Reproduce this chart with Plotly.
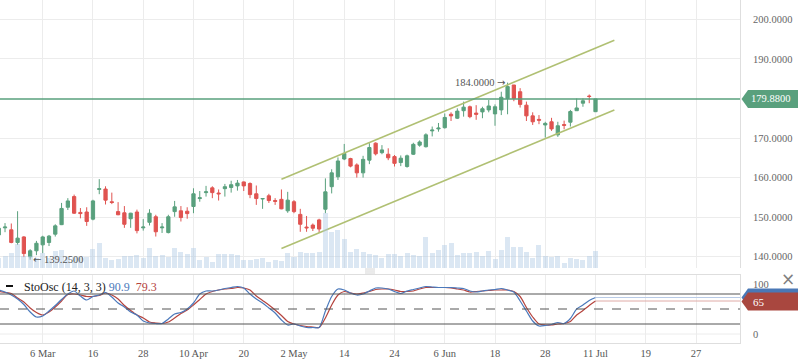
import plotly.graph_objects as go

# ---------------- data (bar index 0 = 6 Mar) ----------------
bar_index = list(range(-7, 89))
opens = [145.5, 147.3, 146.8, 143.6, 145.0, 140.0, 141.5,
         143.0, 143.6, 145.7, 148.1, 152.5, 155.2, 151.2, 151.3, 149.5, 157.0,
         157.1, 153.9, 151.4, 151.1, 149.6, 151.3, 147.3, 148.7, 150.1, 147.3,
         146.1, 151.4, 151.6, 151.5, 152.7, 154.7, 156.2, 157.4, 156.1, 157.2,
         157.5, 157.9, 158.9, 158.5, 155.9, 154.6, 155.4, 154.2, 154.5, 151.6,
         153.9, 150.7, 147.5, 148.0, 149.3, 152.0, 157.7, 160.2, 164.7, 164.8,
         163.2, 161.2, 164.4, 168.7, 166.3, 165.9, 165.3, 163.8, 162.8, 165.9,
         168.2, 167.8, 171.8, 172.3, 172.6, 176.0, 175.0, 176.9, 177.9, 176.3,
         176.6, 177.1, 176.1, 177.1, 180.0, 183.4, 181.7, 178.3, 175.6, 174.7,
         173.3, 174.1, 170.8, 173.4, 174.0, 176.9, 178.8, 180.6, 176.65]
highs = [147.6, 148.5, 148.4, 151.5, 145.2, 141.9, 144.0,
         145.3, 145.5, 148.2, 153.6, 154.8, 155.7, 152.3, 152.5, 154.4, 159.6,
         157.8, 156.2, 153.8, 152.8, 151.1, 151.9, 149.5, 152.0, 150.6, 148.5,
         150.6, 154.1, 152.8, 152.5, 157.3, 156.6, 157.9, 157.8, 157.0, 158.4,
         159.2, 159.4, 159.0, 158.8, 158.0, 154.8, 155.9, 154.8, 157.0, 156.4,
         154.3, 152.1, 150.3, 148.4, 149.6, 159.8, 162.1, 165.1, 168.5, 165.0,
         163.6, 165.5, 168.7, 168.9, 168.2, 167.4, 165.7, 165.6, 165.8, 168.8,
         169.4, 171.2, 172.9, 173.8, 176.2, 176.5, 177.5, 179.2, 178.2, 178.3,
         177.9, 179.6, 178.5, 181.7, 184.0, 183.4, 182.6, 179.2, 176.5, 175.8,
         174.1, 175.1, 174.1, 174.4, 177.1, 180.0, 180.0, 181.0, 179.9]
lows = [144.8, 146.2, 143.4, 143.0, 139.9, 139.25, 140.4,
        140.9, 142.7, 145.1, 148.0, 151.8, 150.8, 149.7, 147.8, 149.2, 155.8,
        153.2, 153.3, 150.5, 147.3, 147.3, 145.9, 146.6, 147.9, 145.1, 146.0,
        145.9, 150.1, 148.9, 149.6, 151.0, 153.9, 155.2, 154.8, 154.2, 155.2,
        156.2, 156.7, 156.6, 154.8, 153.1, 152.1, 153.6, 153.1, 152.0, 151.1,
        151.0, 146.3, 146.3, 146.5, 146.0, 151.0, 156.0, 159.4, 164.4, 162.6,
        160.0, 160.0, 163.4, 165.6, 165.9, 164.4, 162.8, 162.9, 162.5, 165.7,
        167.8, 167.6, 170.4, 171.6, 172.4, 174.3, 174.8, 175.4, 175.0, 174.6,
        175.0, 176.5, 173.1, 175.8, 176.0, 179.3, 177.7, 174.3, 173.3, 173.5,
        170.1, 171.8, 170.3, 172.2, 172.9, 176.9, 177.9, 178.8, 176.6]
closes = [147.2, 147.5, 143.6, 144.7, 140.8, 141.5, 143.4,
          145.0, 145.2, 147.8, 152.2, 154.1, 151.0, 150.9, 148.9, 154.1, 157.2,
          154.3, 153.7, 150.6, 148.2, 151.0, 146.6, 147.5, 151.0, 146.3, 147.5,
          150.1, 152.6, 149.9, 150.9, 155.9, 154.9, 156.4, 156.2, 155.9, 157.7,
          158.2, 158.6, 157.9, 155.7, 154.7, 154.7, 154.2, 154.0, 152.1, 154.3,
          151.4, 148.2, 147.3, 147.2, 147.0, 156.4, 161.2, 164.2, 166.1, 162.9,
          161.2, 164.6, 167.6, 166.0, 167.0, 165.0, 163.6, 164.9, 165.5, 168.4,
          169.0, 170.8, 172.0, 172.5, 175.2, 175.6, 176.8, 177.8, 175.4, 176.0,
          177.4, 178.1, 177.9, 180.3, 183.0, 180.0, 178.5, 175.6, 174.1, 174.5,
          173.7, 172.3, 173.1, 173.2, 176.7, 177.6, 179.4, 180.5, 179.88]
volumes = [10, 12, 15, 24, 12, 12, 10,
           15, 10, 17, 18, 11, 11, 11, 11, 19, 25,
           10, 8, 9, 12, 12, 13, 10, 20, 12, 13,
           11, 20, 16, 14, 20, 8, 11, 6, 14, 14,
           14, 13, 8, 8, 9, 10, 6, 8, 7, 15,
           11, 16, 15, 15, 16, 55, 36, 38, 29, 16,
           19, 16, 14, 13, 10, 14, 14, 12, 15, 13,
           12, 31, 15, 18, 23, 25, 13, 15, 15, 16,
           12, 17, 9, 18, 31, 21, 21, 16, 10, 23,
           12, 11, 12, 5, 10, 9, 8, 12, 17]
stoch_k = [88, 84, 78, 70, 59, 44, 34,
           36, 46, 57, 69, 80, 86, 76, 68, 75, 78,
           83, 74, 62, 54, 44, 38, 26, 22, 21, 21,
           30, 40, 43, 50, 62, 80, 86, 86, 88, 91,
           93, 95, 92, 80, 70, 62, 52, 42, 28, 18,
           20, 16, 13, 13, 13, 46, 75, 90, 88, 82,
           78, 80, 86, 92, 92, 90, 85, 81, 86, 89,
           92, 95, 94, 93, 93, 93, 92, 91, 86, 84,
           86, 88, 89, 91, 88, 84, 66, 46, 26, 16,
           17, 19, 23, 21, 31, 50, 58, 67, 73]
stoch_d = [85, 83, 81, 72, 64, 52, 43,
           38, 44, 54, 66, 79, 80, 78, 75, 75, 77,
           82, 78, 70, 57, 47, 38, 32, 24, 22, 21,
           24, 32, 41, 48, 58, 69, 80, 85, 88, 90,
           91, 93, 92, 88, 76, 67, 58, 48, 37, 25,
           20, 17, 15, 14, 13, 32, 58, 78, 85, 82,
           80, 82, 85, 89, 90, 90, 88, 85, 85, 86,
           90, 93, 93, 93, 93, 92, 90, 88, 84, 85,
           86, 87, 88, 88, 88, 85, 75, 53, 34, 20,
           18, 18, 20, 21, 25, 38, 47, 57, 66]
tick_index = list(range(0, 105, 8))
tick_text = ["6 Mar", "16", "28", "10 Apr", "20", "2 May", "14", "24",
             "6 Jun", "18", "28", "11 Jul", "19", "27"]
price_ticks = [140, 150, 160, 170, 190, 200]   # 180 sits under the price tag
stoch_ticks = [0, 100]
stoch_levels = [80, 50, 20]
channel_x = [38, 91]
channel_upper = [159.6, 194.7]
channel_lower = [142.1, 177.1]
last_price = 179.88
legend_k = "90.9"
legend_d = "79.3"
stoch_tag_value = 65

# ---------------- styling ----------------
GREEN = "#59a07d"
RED = "#e05350"
BLUE_K = "#4b79bb"
RED_D = "#b5443e"
GRID = "#ececec"
AXLINE = "#dedede"
CHAN = "#b0c073"
SERIF = "Liberation Serif"
ARROWFONT = "font-family:DejaVu Sans;font-size:10px"

W, H = 798, 363
PW, PH = 740, 343           # plot area in px
MAIN_D = [75 / PH, 1.0]
STO_D = [0.0, 68 / PH]
PR = [137.15, 204.88]
SR = [-18, 118]
XR = [-6.8, 111]


def xp(px):
    return px / PW


def yp(py):
    return (PH - py) / PH


def main_to_paper(v):
    return MAIN_D[0] + (v - PR[0]) / (PR[1] - PR[0]) * (MAIN_D[1] - MAIN_D[0])


def sto_to_paper(v):
    return STO_D[0] + (v - SR[0]) / (SR[1] - SR[0]) * (STO_D[1] - STO_D[0])


fig = go.Figure()

fig.add_trace(go.Bar(x=bar_index, y=volumes, yaxis="y3", xaxis="x",
                     marker=dict(color="rgba(170,198,226,0.42)", line=dict(width=0)),
                     width=0.8, hoverinfo="skip", showlegend=False))

fig.add_trace(go.Candlestick(
    x=bar_index, open=opens, high=highs, low=lows, close=closes,
    increasing=dict(line=dict(color=GREEN, width=1), fillcolor=GREEN),
    decreasing=dict(line=dict(color=RED, width=1), fillcolor=RED),
    whiskerwidth=0, showlegend=False, hoverinfo="skip", xaxis="x", yaxis="y"))

for ys in (channel_upper, channel_lower):
    fig.add_trace(go.Scatter(x=channel_x, y=ys, mode="lines",
                             line=dict(color=CHAN, width=1.6), hoverinfo="skip",
                             showlegend=False, xaxis="x", yaxis="y"))

# stochastic
fig.add_trace(go.Scatter(x=bar_index, y=stoch_d, mode="lines",
                         line=dict(color=RED_D, width=1.2, shape="spline", smoothing=0.7),
                         showlegend=False, hoverinfo="skip", xaxis="x2", yaxis="y2"))
fig.add_trace(go.Scatter(x=bar_index, y=stoch_k, mode="lines",
                         line=dict(color=BLUE_K, width=1.2, shape="spline", smoothing=0.7),
                         showlegend=False, hoverinfo="skip", xaxis="x2", yaxis="y2"))
fig.add_trace(go.Scatter(x=[bar_index[-1], XR[1]], y=[stoch_k[-1], stoch_k[-1]], mode="lines",
                         line=dict(color="#b9cbe6", width=1), showlegend=False,
                         hoverinfo="skip", xaxis="x2", yaxis="y2"))
fig.add_trace(go.Scatter(x=[bar_index[-1], XR[1]], y=[stoch_d[-1], stoch_d[-1]], mode="lines",
                         line=dict(color="#dfaaa6", width=1), showlegend=False,
                         hoverinfo="skip", xaxis="x2", yaxis="y2"))

shapes = []
# last price line
shapes.append(dict(type="line", xref="paper", yref="y", x0=0, x1=1,
                   y0=last_price, y1=last_price, line=dict(color=GREEN, width=1.5)))
# stoch levels
for lv in stoch_levels:
    shapes.append(dict(type="line", xref="paper", yref="y2", x0=0, x1=1, y0=lv, y1=lv,
                       line=dict(color="#555555", width=1,
                                 dash="dash" if lv == 50 else "solid")))
shapes.append(dict(type="line", xref="paper", yref="y2", x0=0, x1=1, y0=0, y1=0,
                   line=dict(color=GRID, width=1), layer="below"))


def tag(yc, color, h=9):
    return dict(type="path", xref="paper", yref="paper", layer="above",
                path=(f"M {xp(741.5)},{yc} L {xp(748)},{yc + h / PH} L {xp(798)},{yc + h / PH} "
                      f"L {xp(798)},{yc - h / PH} L {xp(748)},{yc - h / PH} Z"),
                fillcolor=color, line=dict(width=0))


shapes.append(tag(main_to_paper(last_price), GREEN))
shapes.append(tag(sto_to_paper(stoch_k[-1]), "#4a78b6"))
shapes.append(tag(sto_to_paper(stoch_tag_value), "#a9473f"))

# legend dash
shapes.append(dict(type="line", xref="paper", yref="paper", x0=xp(6), x1=xp(13),
                   y0=yp(286), y1=yp(286), line=dict(color="#111", width=2)))
# resize handle
for py in (269, 271, 273):
    shapes.append(dict(type="line", xref="paper", yref="paper", x0=xp(365), x1=xp(375),
                       y0=yp(py), y1=yp(py), line=dict(color="#d6d6d6", width=1)))

ann = []
ann.append(dict(x=xp(770), y=main_to_paper(last_price), xref="paper", yref="paper",
                text=f"{last_price:.4f}", showarrow=False, xanchor="center", yanchor="middle",
                font=dict(family=SERIF, size=10.5, color="white")))
ann.append(dict(x=xp(751), y=sto_to_paper(stoch_tag_value), xref="paper", yref="paper",
                text=f"{stoch_tag_value}", showarrow=False, xanchor="left", yanchor="middle",
                font=dict(family=SERIF, size=11, color="white")))
imax = max(range(len(highs)), key=lambda k: highs[k])
imin = min(range(len(lows)), key=lambda k: lows[k])
ann.append(dict(x=bar_index[imax], y=highs[imax], xref="x", yref="y",
                text=f"{highs[imax]:.4f} <span style='{ARROWFONT}'>→</span>",
                showarrow=False, xanchor="right", yanchor="middle", xshift=-1,
                font=dict(family=SERIF, size=10.5, color="#555")))
ann.append(dict(x=bar_index[imin], y=lows[imin], xref="x", yref="y",
                text=f"<span style='{ARROWFONT}'>←</span> {lows[imin]:.4f}",
                showarrow=False, xanchor="left", yanchor="middle", xshift=1,
                font=dict(family=SERIF, size=10.5, color="#555")))
ann.append(dict(x=xp(22), y=yp(287), xref="paper", yref="paper", xanchor="left",
                yanchor="middle", showarrow=False,
                text=(f"StoOsc (14, 3, 3) <span style='color:{BLUE_K}'>{legend_k}</span>"
                      f"  <span style='color:{RED_D}'>{legend_d}</span>"),
                font=dict(family=SERIF, size=12, color="#222")))
ann.append(dict(x=xp(788), y=yp(279), xref="paper", yref="paper", xanchor="center",
                yanchor="middle", showarrow=False, text="×",
                font=dict(family="DejaVu Sans", size=17, color="#808080")))

fig.update_layout(
    width=W, height=H, margin=dict(l=0, r=W - PW, t=0, b=H - PH),
    paper_bgcolor="white", plot_bgcolor="white", showlegend=False,
    boxgap=0.26, bargap=0,
    xaxis=dict(domain=[0, 1], range=XR, anchor="y", tickvals=tick_index,
               showticklabels=False, showgrid=True, gridcolor=GRID, zeroline=False,
               rangeslider=dict(visible=False), fixedrange=True),
    yaxis=dict(domain=MAIN_D, range=PR, side="right", anchor="x", tickvals=price_ticks,
               tickformat=".4f", showgrid=True, gridcolor=GRID, zeroline=False,
               showline=True, linecolor=AXLINE, ticks="", ticklabelstandoff=10,
               tickfont=dict(family=SERIF, size=10.5, color="#666")),
    yaxis3=dict(overlaying="y", range=[0, 268], visible=False, fixedrange=True),
    xaxis2=dict(domain=[0, 1], range=XR, anchor="y2", tickvals=tick_index,
                ticktext=tick_text, showgrid=True, gridcolor=GRID, zeroline=False,
                showline=True, mirror=True, linecolor=AXLINE, ticks="",
                tickfont=dict(family=SERIF, size=10.5, color="#555"), matches="x"),
    yaxis2=dict(domain=STO_D, range=SR, side="right", anchor="x2", tickvals=stoch_ticks,
                showgrid=False, zeroline=False, showline=True, linecolor=AXLINE,
                ticks="", ticklabelstandoff=10,
                tickfont=dict(family=SERIF, size=10.5, color="#666")),
    shapes=shapes, annotations=ann,
)

fig.write_html("out.html", config={"displayModeBar": False},
               post_script="document.body.style.margin='0px';document.body.style.overflow='hidden';")
